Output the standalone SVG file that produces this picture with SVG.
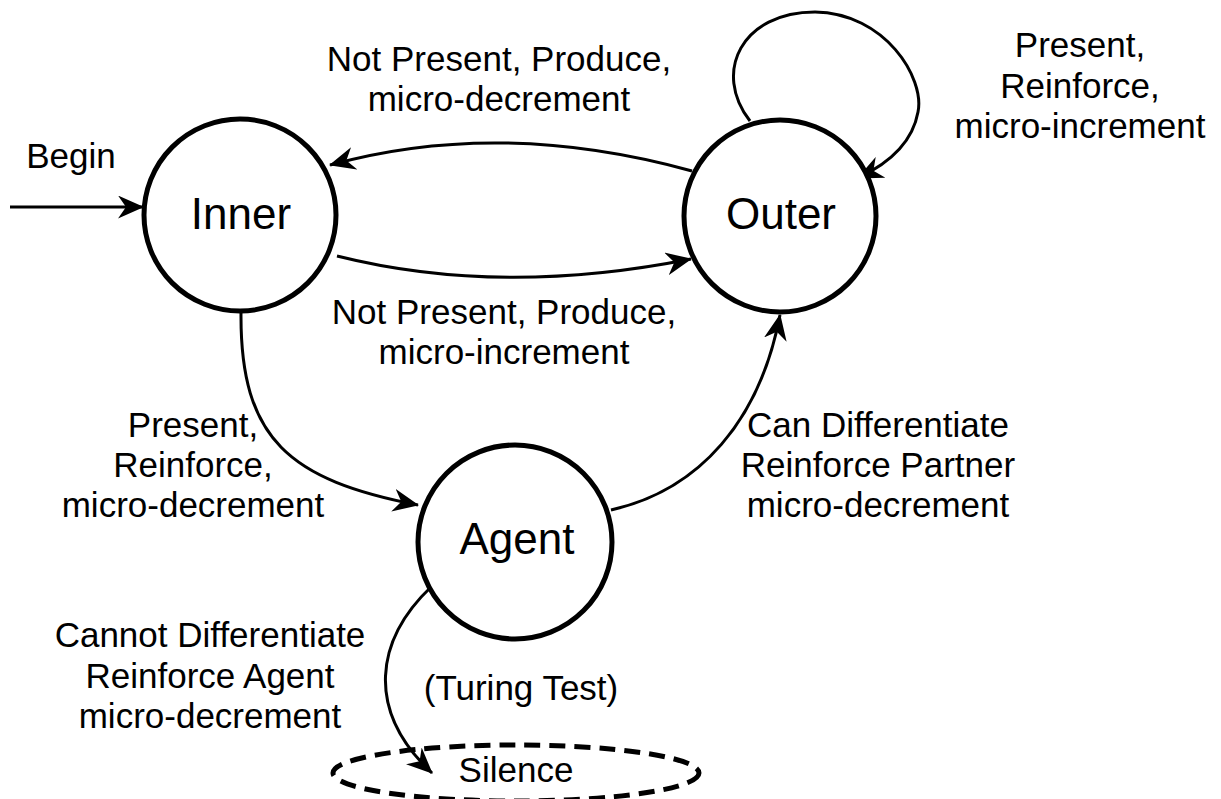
<svg xmlns="http://www.w3.org/2000/svg" width="1221" height="799" viewBox="0 0 1221 799">
  <style>
    .state { fill: #ffffff; stroke: #000000; stroke-width: 5; }
    .final { fill: none; stroke: #000000; stroke-width: 5; stroke-dasharray: 16 9; }
    .edge { fill: none; stroke: #000000; stroke-width: 3; marker-end: url(#arrow); }
    .name { font-family: "Liberation Sans", Arial, Helvetica, sans-serif; font-size: 44px; text-anchor: middle; fill: #000000; }
    .label { font-family: "Liberation Sans", Arial, Helvetica, sans-serif; font-size: 35px; text-anchor: middle; fill: #000000; }
  </style>
  <defs>
    <marker id="arrow" markerUnits="userSpaceOnUse" viewBox="0 0 26 23" markerWidth="26" markerHeight="23" refX="25" refY="11.5" orient="auto">
      <path d="M26,11.5 L0,0 L8,11.5 L0,23 Z" fill="#000000"/>
    </marker>
  </defs>

  <rect x="0" y="0" width="1221" height="799" fill="#ffffff"/>

  <!-- transitions -->
  <g id="connectors">
    <path id="e-begin" class="edge" d="M 10 207 L 143 207"/>
    <path id="e-outer-inner" class="edge" d="M 692 171 Q 500 118 330 165"/>
    <path id="e-inner-outer" class="edge" d="M 337 256 Q 500 297 691 259"/>
    <path id="e-outer-self" class="edge" d="M 750 121 C 712 72 742 12 815 12 C 885 13 925 78 918 112 C 913 140 892 162 858 178"/>
    <path id="e-inner-agent" class="edge" d="M 241 313 C 240 440 290 480 418 505"/>
    <path id="e-agent-outer" class="edge" d="M 611 510 C 700 490 760 420 780 315"/>
    <path id="e-agent-silence" class="edge" d="M 432 586 C 375 640 365 710 432 773"/>
  </g>

  <!-- transition labels -->
  <g id="edge-labels">
    <text class="label" x="71" y="168">Begin</text>
    <text class="label" x="499" y="71">Not Present, Produce,</text>
    <text class="label" x="499" y="111">micro-decrement</text>
    <text class="label" x="504" y="324">Not Present, Produce,</text>
    <text class="label" x="504" y="364">micro-increment</text>
    <text class="label" x="1080" y="57">Present,</text>
    <text class="label" x="1080" y="98">Reinforce,</text>
    <text class="label" x="1080" y="138">micro-increment</text>
    <text class="label" x="193" y="437">Present,</text>
    <text class="label" x="193" y="477">Reinforce,</text>
    <text class="label" x="193" y="517">micro-decrement</text>
    <text class="label" x="878" y="437">Can Differentiate</text>
    <text class="label" x="878" y="477">Reinforce Partner</text>
    <text class="label" x="878" y="517">micro-decrement</text>
    <text class="label" x="210" y="647">Cannot Differentiate</text>
    <text class="label" x="210" y="688">Reinforce Agent</text>
    <text class="label" x="210" y="728">micro-decrement</text>
    <text class="label" x="521" y="700">(Turing Test)</text>
  </g>

  <g id="node-inner">
    <circle class="state" cx="240" cy="215" r="96"/>
    <text class="name" x="241" y="229">Inner</text>
  </g>

  <g id="node-outer">
    <circle class="state" cx="780" cy="216" r="96"/>
    <text class="name" x="781" y="229">Outer</text>
  </g>

  <g id="node-agent">
    <circle class="state" cx="515" cy="542" r="97"/>
    <text class="name" x="517" y="554">Agent</text>
  </g>

  <g id="node-silence">
    <ellipse class="final" cx="516" cy="773" rx="183" ry="28"/>
    <text class="label" x="516" y="782">Silence</text>
  </g>
</svg>
